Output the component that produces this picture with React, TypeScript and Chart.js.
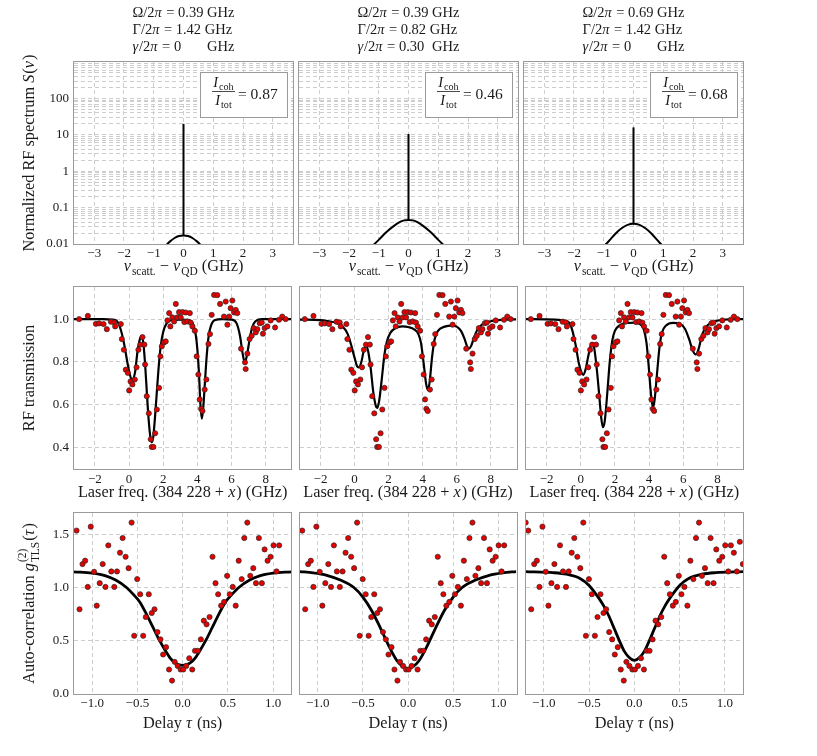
import { useEffect, useRef } from 'react';
import { Chart, registerables } from 'chart.js';

Chart.register(...registerables);

// ---------------- Row 1: normalized RF spectra S(nu), log scale ----------------
const specLabelValues = [0.01, 0.1, 1, 10, 100];
const specLabels = ['0.01', '0.1', '1', '10', '100'];
const rabiFreq = ['0.39', '0.39', '0.69'];
const radiativeRate = ['1.42', '0.82', '1.42'];
const dephasingRate = ['0', '0.30', '0'];
const coherentFraction = ['0.87', '0.46', '0.68'];
const spikeTop = [20, 10.5, 16];

const specXA = [-0.65, -0.55, -0.45, -0.3, -0.15, 0, 0.15, 0.3, 0.45, 0.55, 0.65];
const specYA = [0.0082, 0.0099, 0.0118, 0.0146, 0.0166, 0.0172, 0.0166, 0.0146, 0.0118, 0.0099, 0.0082];
const specXB = [-1.3, -1.15, -1.0, -0.75, -0.5, -0.3, -0.15, 0, 0.15, 0.3, 0.5, 0.75, 1.0, 1.15, 1.3];
const specYB = [0.0078, 0.0099, 0.013, 0.021, 0.031, 0.04, 0.0445, 0.046, 0.0445, 0.04, 0.031, 0.021, 0.013, 0.0099, 0.0078];
const specXC = [-1.05, -0.92, -0.8, -0.6, -0.4, -0.2, 0, 0.2, 0.4, 0.6, 0.8, 0.92, 1.05];
const specYC = [0.0078, 0.01, 0.0128, 0.0195, 0.027, 0.0335, 0.036, 0.0335, 0.027, 0.0195, 0.0128, 0.01, 0.0078];

// ---------------- Row 2: RF transmission (measured points, shared) ----------------
const transX = [
  -2.92, -2.41, -1.94, -1.75, -1.49, -1.30, -1.06, -0.87, -0.81, -0.48,
  -0.42, -0.30, -0.19, -0.07, 0.01, 0.09, 0.20, 0.34, 0.44, 0.55,
  0.67, 0.79, 0.90, 0.94, 1.04, 1.16, 1.27, 1.33, 1.43, 1.53,
  1.63, 1.76, 1.84, 1.92, 2.05, 2.15, 2.25, 2.35, 2.42, 2.54,
  2.64, 2.74, 2.83, 2.93, 3.03, 3.13, 3.24, 3.32, 3.42, 3.56,
  3.61, 3.71, 3.85, 3.96, 4.06, 4.14, 4.22, 4.30, 4.43, 4.53,
  4.65, 4.74, 4.84, 4.98, 5.17, 5.33, 5.56, 5.66, 5.76, 5.86,
  5.95, 6.05, 6.15, 6.25, 6.34, 6.56, 6.79, 6.83, 6.93, 7.06,
  7.18, 7.30, 7.42, 7.51, 7.65, 7.77, 7.84, 7.94, 8.10, 8.29,
  8.55, 8.78, 8.97, 9.17,
];
const transY = [
  1.000, 1.015, 0.978, 0.980, 0.977, 0.953, 0.988, 0.985, 0.966, 0.977,
  0.907, 0.857, 0.764, 0.749, 0.667, 0.709, 0.695, 0.718, 0.775, 0.857,
  0.881, 0.916, 0.881, 0.788, 0.640, 0.560, 0.439, 0.403, 0.403, 0.467,
  0.578, 0.679, 0.826, 0.873, 0.891, 0.896, 0.994, 1.028, 0.966, 1.008,
  0.989, 1.071, 1.008, 1.033, 1.008, 1.033, 0.986, 1.031, 0.989, 1.028,
  0.984, 0.966, 0.946, 0.826, 0.741, 0.625, 0.581, 0.571, 0.671, 0.718,
  0.884, 0.930, 1.020, 1.113, 1.112, 1.071, 1.012, 1.082, 0.974, 1.012,
  1.051, 1.087, 1.031, 1.043, 1.028, 0.862, 0.798, 0.767, 0.839, 0.907,
  0.922, 0.958, 0.938, 0.953, 0.981, 0.984, 0.932, 0.958, 0.966, 0.994,
  0.961, 0.997, 1.012, 1.000,
];

// Row 2 model curves
const transFitXA = [-3.22, -1.5, -1.0, -0.7, -0.5, -0.3, -0.1, 0.05, 0.18, 0.35, 0.5, 0.65, 0.75, 0.85, 0.95, 1.05, 1.15, 1.25, 1.33, 1.42, 1.52, 1.62, 1.72, 1.85, 2.0, 2.2, 2.5, 3.0, 3.5, 3.75, 3.9, 4.0, 4.1, 4.18, 4.26, 4.34, 4.44, 4.55, 4.67, 4.8, 5.0, 5.5, 6.0, 6.3, 6.5, 6.65, 6.78, 6.9, 7.05, 7.2, 7.4, 7.8, 9.5];
const transFitYA = [1.0, 1.0, 0.998, 0.99, 0.955, 0.89, 0.80, 0.74, 0.718, 0.75, 0.85, 0.91, 0.922, 0.88, 0.78, 0.65, 0.53, 0.45, 0.425, 0.45, 0.54, 0.65, 0.76, 0.87, 0.94, 0.98, 0.996, 0.998, 0.995, 0.975, 0.93, 0.86, 0.74, 0.6, 0.535, 0.58, 0.70, 0.83, 0.925, 0.97, 0.995, 1.0, 0.998, 0.98, 0.92, 0.84, 0.797, 0.83, 0.90, 0.96, 0.99, 1.0, 1.0];
const transFitXB = [-3.22, -2.0, -1.5, -1.0, -0.7, -0.4, -0.2, 0.0, 0.15, 0.25, 0.4, 0.55, 0.68, 0.8, 0.95, 1.1, 1.25, 1.33, 1.45, 1.6, 1.75, 1.9, 2.1, 2.4, 2.8, 3.2, 3.5, 3.75, 3.9, 4.05, 4.2, 4.3, 4.4, 4.55, 4.7, 4.9, 5.3, 5.7, 6.0, 6.25, 6.45, 6.6, 6.72, 6.85, 7.0, 7.2, 7.5, 8.0, 8.7, 9.5];
const transFitYB = [0.998, 0.995, 0.99, 0.98, 0.965, 0.93, 0.88, 0.82, 0.78, 0.775, 0.80, 0.855, 0.875, 0.85, 0.77, 0.66, 0.595, 0.585, 0.62, 0.72, 0.83, 0.895, 0.935, 0.958, 0.966, 0.962, 0.952, 0.93, 0.89, 0.80, 0.70, 0.67, 0.70, 0.82, 0.905, 0.945, 0.965, 0.97, 0.965, 0.945, 0.91, 0.875, 0.862, 0.875, 0.91, 0.948, 0.975, 0.99, 0.997, 0.999];
const transFitXC = [-3.22, -1.5, -1.0, -0.7, -0.5, -0.3, -0.1, 0.05, 0.15, 0.3, 0.45, 0.6, 0.7, 0.8, 0.95, 1.1, 1.2, 1.3, 1.4, 1.5, 1.6, 1.7, 1.85, 2.0, 2.3, 2.7, 3.2, 3.5, 3.7, 3.85, 3.98, 4.1, 4.22, 4.32, 4.45, 4.6, 4.75, 5.0, 5.4, 5.8, 6.1, 6.35, 6.55, 6.73, 6.9, 7.1, 7.35, 7.7, 8.3, 9.5];
const transFitYC = [1.0, 0.998, 0.993, 0.985, 0.95, 0.88, 0.79, 0.75, 0.74, 0.77, 0.83, 0.88, 0.888, 0.86, 0.76, 0.63, 0.54, 0.495, 0.52, 0.6, 0.70, 0.80, 0.90, 0.945, 0.972, 0.982, 0.984, 0.975, 0.95, 0.89, 0.78, 0.66, 0.588, 0.62, 0.73, 0.86, 0.935, 0.97, 0.982, 0.978, 0.955, 0.905, 0.855, 0.835, 0.86, 0.925, 0.965, 0.985, 0.997, 1.0];

// ---------------- Row 3: g2 auto-correlation ----------------
const g2X = [
  -1.172, -1.139, -1.106, -1.077, -1.048, -1.015, -0.978, -0.949, -0.916, -0.883,
  -0.853, -0.821, -0.788, -0.755, -0.725, -0.692, -0.663, -0.630, -0.597, -0.564,
  -0.535, -0.502, -0.469, -0.436, -0.407, -0.374, -0.341, -0.311, -0.278, -0.245,
  -0.216, -0.183, -0.150, -0.117, -0.088, -0.055, -0.022, 0.007, 0.040, 0.073,
  0.106, 0.136, 0.168, 0.201, 0.234, 0.264, 0.297, 0.330, 0.363, 0.392,
  0.425, 0.458, 0.491, 0.520, 0.553, 0.586, 0.619, 0.652, 0.681, 0.714,
  0.747, 0.780, 0.810, 0.842, 0.875, 0.905, 0.938, 0.971, 1.004, 1.037,
  1.066,
];
const g2Y = [
  1.535, 0.796, 1.22, 1.252, 1.006, 1.572, 1.148, 0.830, 1.041, 1.22,
  1.006, 1.396, 1.151, 1.006, 1.151, 1.327, 1.465, 1.289, 1.182, 1.61,
  0.547, 1.079, 0.937, 0.547, 0.723, 0.937, 0.761, 0.796, 0.582, 0.513,
  0.371, 0.440, 0.230, 0.126, 0.302, 0.264, 0.230, 0.230, 0.264, 0.336,
  0.230, 0.406, 0.406, 0.513, 0.689, 0.654, 0.723, 1.289, 1.041, 0.937,
  0.830, 0.865, 1.11, 0.937, 1.006, 0.830, 1.252, 1.079, 1.465, 1.61,
  1.11, 1.182, 1.041, 1.465, 1.041, 1.358, 1.252, 1.289, 1.396, 1.151,
  1.396,
];
const g2ExtraX = [-1.2, 1.099, 1.132, 1.165, 1.198];
const g2ExtraY = [1.61, 1.327, 1.151, 1.43, 1.22];

const g2FitXA = [-1.2, -1.0, -0.85, -0.74, -0.62, -0.55, -0.47, -0.4, -0.33, -0.26, -0.2, -0.14, -0.08, 0, 0.08, 0.14, 0.2, 0.26, 0.33, 0.4, 0.47, 0.55, 0.62, 0.74, 0.85, 1.0, 1.2];
const g2FitYA = [1.148, 1.135, 1.11, 1.07, 1.0, 0.94, 0.86, 0.75, 0.63, 0.51, 0.42, 0.34, 0.29, 0.268, 0.29, 0.34, 0.42, 0.51, 0.63, 0.75, 0.86, 0.94, 1.0, 1.07, 1.11, 1.135, 1.148];
const g2FitXB = [-1.2, -1.05, -0.9, -0.75, -0.6, -0.5, -0.4, -0.3, -0.2, -0.12, -0.06, 0, 0.06, 0.12, 0.2, 0.3, 0.4, 0.5, 0.6, 0.75, 0.9, 1.05, 1.2];
const g2FitYB = [1.15, 1.138, 1.115, 1.07, 1.0, 0.91, 0.78, 0.61, 0.43, 0.31, 0.26, 0.24, 0.26, 0.31, 0.43, 0.61, 0.78, 0.91, 1.0, 1.07, 1.115, 1.138, 1.15];
const g2FitXC = [-1.2, -0.9, -0.75, -0.6, -0.5, -0.4, -0.34, -0.28, -0.22, -0.16, -0.11, -0.06, 0, 0.06, 0.11, 0.16, 0.22, 0.28, 0.34, 0.4, 0.5, 0.6, 0.75, 0.9, 1.2];
const g2FitYC = [1.15, 1.14, 1.125, 1.085, 1.02, 0.91, 0.83, 0.73, 0.61, 0.49, 0.40, 0.345, 0.315, 0.345, 0.40, 0.49, 0.61, 0.73, 0.83, 0.91, 1.02, 1.085, 1.125, 1.14, 1.15];

// ---------------- styling / layout ----------------
const SERIF = "'Liberation Serif', 'DejaVu Serif', serif";
const TXT = '#1a1a1a';
const GRID = '#cdcdcd';
const FRAME = '#9a9a9a';
const RED = '#e60000';
const TICK_SIZE = 13;
const HEAD_SIZE = 14.5;
const AXIS_TITLE_SIZE = 16.3;

const COLS = [
  { x: 0, w: 296, yw: 74, pr: 3 },
  { x: 295, w: 226, yw: 4, pr: 3 },
  { x: 521, w: 296, yw: 3, pr: 74 },
];
const ROWS = [
  { y: 0, h: 280, pt: 62, xh: 36, tickPad: 2, titleDy: 22 },
  { y: 280, h: 225, pt: 7, xh: 36, tickPad: 3, titleDy: 22.5 },
  { y: 505, h: 251, pt: 8, xh: 62, tickPad: 1.5, titleDy: 29 },
];

type Seg = { t?: string; it?: boolean; sub?: boolean; sup?: boolean; stack?: [string, string] };

function setFont(ctx: CanvasRenderingContext2D, size: number, it: boolean) {
  ctx.font = `${it ? 'italic ' : ''}${size}px ${SERIF}`;
}
function segWidth(ctx: CanvasRenderingContext2D, s: Seg, size: number) {
  if (s.stack) {
    setFont(ctx, size * 0.7, false);
    return Math.max(ctx.measureText(s.stack[0]).width, ctx.measureText(s.stack[1]).width) + 1;
  }
  const sz = s.sub || s.sup ? size * 0.7 : size;
  setFont(ctx, sz, !!s.it);
  return ctx.measureText(s.t || '').width + (s.it ? size * 0.06 : 0);
}
function richWidth(ctx: CanvasRenderingContext2D, segs: Seg[], size: number) {
  return segs.reduce((a, s) => a + segWidth(ctx, s, size), 0);
}
function drawRich(ctx: CanvasRenderingContext2D, segs: Seg[], x: number, y: number, size: number, align = 'center', rot = 0) {
  ctx.save();
  ctx.translate(x, y);
  if (rot) ctx.rotate(rot);
  const widths = segs.map((s) => segWidth(ctx, s, size));
  const total = widths.reduce((a, b) => a + b, 0);
  let cx = align === 'center' ? -total / 2 : align === 'right' ? -total : 0;
  ctx.fillStyle = TXT;
  ctx.textAlign = 'left';
  ctx.textBaseline = 'alphabetic';
  const base = size * 0.33;
  segs.forEach((s, i) => {
    if (s.stack) {
      setFont(ctx, size * 0.7, false);
      ctx.fillText(s.stack[0], cx, base - size * 0.5);
      ctx.fillText(s.stack[1], cx, base + size * 0.28);
    } else {
      const sz = s.sub || s.sup ? size * 0.7 : size;
      setFont(ctx, sz, !!s.it);
      const dy = s.sub ? size * 0.25 : s.sup ? -size * 0.4 : 0;
      ctx.fillText(s.t || '', cx, base + dy);
    }
    cx += widths[i];
  });
  ctx.restore();
}

const X_TITLES: Seg[][] = [
  [{ t: 'ν', it: true }, { t: 'scatt.', sub: true }, { t: ' − ' }, { t: 'ν', it: true }, { t: 'QD', sub: true }, { t: ' (GHz)' }],
  [{ t: 'Laser freq. (384 228 + ' }, { t: 'x', it: true }, { t: ') (GHz)' }],
  [{ t: 'Delay ' }, { t: 'τ', it: true }, { t: ' (ns)' }],
];
const Y_TITLES: Seg[][] = [
  [{ t: 'Normalized RF spectrum ' }, { t: 'S', it: true }, { t: '(' }, { t: 'ν', it: true }, { t: ')' }],
  [{ t: 'RF transmission' }],
  [{ t: 'Auto-correlation ' }, { t: 'g', it: true }, { stack: ['(2)', 'TLS'] }, { t: '(' }, { t: 'τ', it: true }, { t: ')' }],
];

function decoPlugin(row: number, col: number) {
  return {
    id: `deco${row}${col}`,
    afterDatasetsDraw(chart: any) {
      const { ctx, chartArea: ca } = chart;
      ctx.save();
      ctx.setLineDash([]);
      ctx.strokeStyle = FRAME;
      ctx.lineWidth = 1;
      ctx.strokeRect(Math.round(ca.left) - 0.5, Math.round(ca.top) - 0.5, Math.round(ca.right - ca.left) + 1, Math.round(ca.bottom - ca.top) + 1);
      if (row === 0) {
        const bx = Math.round(ca.right) - 92.5;
        const by = Math.round(ca.top) + 10.5;
        const bw = 87;
        const bh = 45;
        ctx.fillStyle = '#ffffff';
        ctx.fillRect(bx, by, bw, bh);
        ctx.strokeStyle = FRAME;
        ctx.strokeRect(bx, by, bw, bh);
        const fx = bx + 23;
        const barY = by + 19;
        drawRich(ctx, [{ t: 'I', it: true }, { t: 'coh', sub: true }], fx, barY - 9.5, 14.5);
        drawRich(ctx, [{ t: 'I', it: true }, { t: 'tot', sub: true }], fx, barY + 8.5, 14.5);
        ctx.strokeStyle = TXT;
        ctx.lineWidth = 0.8;
        ctx.beginPath();
        ctx.moveTo(fx - 11.5, barY);
        ctx.lineTo(fx + 11.5, barY);
        ctx.stroke();
        drawRich(ctx, [{ t: `= ${coherentFraction[col]}` }], bx + 37.5, barY + 2.5, 15.5, 'left');
      }
      ctx.restore();
    },
    afterDraw(chart: any) {
      const { ctx, chartArea: ca } = chart;
      const cxm = (ca.left + ca.right) / 2;
      const cym = (ca.top + ca.bottom) / 2;
      ctx.save();
      drawRich(ctx, X_TITLES[row], cxm, ca.bottom + ROWS[row].titleDy, AXIS_TITLE_SIZE);
      if (col === 0) drawRich(ctx, Y_TITLES[row], 29, cym, AXIS_TITLE_SIZE, 'center', -Math.PI / 2);
      if (row === 0) {
        const l1: Seg[] = [{ t: 'Ω/2' }, { t: 'π', it: true }, { t: ` = ${rabiFreq[col]} GHz` }];
        const l2: Seg[] = [{ t: 'Γ/2' }, { t: 'π', it: true }, { t: ` = ${radiativeRate[col]} GHz` }];
        const w1 = richWidth(ctx, l1, HEAD_SIZE);
        const x0 = cxm - w1 / 2;
        drawRich(ctx, l1, x0, ca.top - 49.5, HEAD_SIZE, 'left');
        drawRich(ctx, l2, x0, ca.top - 33, HEAD_SIZE, 'left');
        const l3a: Seg[] = [{ t: 'γ', it: true }, { t: '/2' }, { t: 'π', it: true }, { t: ` = ${dephasingRate[col]}` }];
        const ghzX = x0 + richWidth(ctx, [{ t: 'Ω/2' }, { t: 'π', it: true }, { t: ` = ${rabiFreq[col]} ` }], HEAD_SIZE);
        drawRich(ctx, l3a, x0, ca.top - 15.5, HEAD_SIZE, 'left');
        drawRich(ctx, [{ t: 'GHz' }], ghzX, ca.top - 15.5, HEAD_SIZE, 'left');
      }
      ctx.restore();
    },
  };
}

const pts = (xs: number[], ys: number[]) => xs.map((x, i) => ({ x, y: ys[i] }));
const minus = (v: number, d: number) => (v < -1e-9 ? '\u2212' : '') + Math.abs(v).toFixed(d);

function curveDs(data: any[], width: number, smooth = true) {
  return {
    type: 'line',
    data,
    borderColor: '#000000',
    borderWidth: width,
    pointRadius: 0,
    fill: false,
    tension: 0,
    cubicInterpolationMode: smooth ? 'monotone' : 'default',
    order: 2,
  };
}
function pointDs(data: any[]) {
  return {
    type: 'line',
    data,
    showLine: false,
    pointRadius: 2.6,
    pointBackgroundColor: RED,
    pointBorderColor: '#2a2a2a',
    pointBorderWidth: 0.7,
    order: 1,
  };
}

function buildConfig(row: number, col: number): any {
  const c = COLS[col];
  const r = ROWS[row];
  const tickFont = { family: SERIF, size: TICK_SIZE };
  let datasets: any[] = [];
  let xCfg: any;
  let yCfg: any;

  if (row === 0) {
    const xs = [specXA, specXB, specXC][col];
    const ys = [specYA, specYB, specYC][col];
    datasets = [
      curveDs(pts(xs, ys), 2),
      curveDs([{ x: 0, y: Math.max(...ys) }, { x: 0, y: spikeTop[col] }], 2, false),
    ];
    xCfg = { type: 'linear', min: -3.68, max: 3.68, ticks: { stepSize: 1, callback: (v: number) => minus(v, 0) } };
    yCfg = {
      type: 'logarithmic',
      min: 0.01,
      max: 1000,
      afterBuildTicks: (scale: any) => {
        const t: any[] = [];
        for (let e = -2; e <= 2; e++) for (let m = 1; m <= 9; m++) t.push({ value: +(m * Math.pow(10, e)).toPrecision(3) });
        scale.ticks = t;
      },
      ticks: {
        callback: (v: number) => {
          const i = specLabelValues.findIndex((s) => Math.abs(s - v) / s < 1e-6);
          return i >= 0 ? specLabels[i] : '';
        },
      },
    };
  } else if (row === 1) {
    const fx = [transFitXA, transFitXB, transFitXC][col];
    const fy = [transFitYA, transFitYB, transFitYC][col];
    datasets = [pointDs(pts(transX, transY)), curveDs(pts(fx, fy), 2.2)];
    xCfg = { type: 'linear', min: -3.22, max: 9.5, ticks: { stepSize: 2, callback: (v: number) => minus(v, 0) } };
    yCfg = { type: 'linear', min: 0.3, max: 1.15, ticks: { stepSize: 0.2, callback: (v: number) => minus(v, 1) } };
  } else {
    const fx = [g2FitXA, g2FitXB, g2FitXC][col];
    const fy = [g2FitYA, g2FitYB, g2FitYC][col];
    const dx = col === 2 ? [...g2ExtraX.slice(0, 1), ...g2X, ...g2ExtraX.slice(1)] : g2X;
    const dy = col === 2 ? [...g2ExtraY.slice(0, 1), ...g2Y, ...g2ExtraY.slice(1)] : g2Y;
    datasets = [pointDs(pts(dx, dy)), curveDs(pts(fx, fy), 2.8)];
    xCfg = { type: 'linear', min: -1.2, max: 1.2, ticks: { stepSize: 0.5, callback: (v: number) => minus(v, 1) } };
    yCfg = { type: 'linear', min: 0, max: 1.7, ticks: { stepSize: 0.5, callback: (v: number) => minus(v, 1) } };
  }

  const common = (axisTicks: any) => ({
    ...axisTicks,
    font: tickFont,
    color: TXT,
    autoSkip: false,
    maxRotation: 0,
    includeBounds: false,
  });

  xCfg = {
    ...xCfg,
    position: 'bottom',
    ticks: { ...common(xCfg.ticks), padding: r.tickPad },
    grid: { color: GRID, lineWidth: 1, drawTicks: false },
    border: { display: false, dash: [4, 3] },
    afterFit: (s: any) => {
      s.height = r.xh;
      s.paddingLeft = 0;
      s.paddingRight = 0;
      s.paddingTop = 0;
      s.paddingBottom = 0;
    },
  };
  yCfg = {
    ...yCfg,
    position: 'left',
    ticks: { ...common(yCfg.ticks), padding: 5, display: col === 0 },
    grid: { color: GRID, lineWidth: 1, drawTicks: false },
    border: { display: false, dash: [4, 3] },
    afterFit: (s: any) => {
      s.width = c.yw;
      s.paddingLeft = 0;
      s.paddingRight = 0;
      s.paddingTop = 0;
      s.paddingBottom = 0;
    },
  };

  return {
    type: 'line',
    data: { datasets },
    options: {
      responsive: false,
      maintainAspectRatio: false,
      animation: false,
      devicePixelRatio: 1,
      events: [],
      layout: { padding: { left: 0, right: c.pr, top: r.pt, bottom: 0 } },
      plugins: { legend: { display: false }, tooltip: { enabled: false }, title: { display: false } },
      scales: { x: xCfg, y: yCfg },
    },
    plugins: [decoPlugin(row, col)],
  };
}

function Panel({ row, col }: { row: number; col: number }) {
  const ref = useRef<HTMLCanvasElement | null>(null);
  useEffect(() => {
    if (!ref.current) return;
    const chart = new Chart(ref.current, buildConfig(row, col));
    return () => chart.destroy();
  }, [row, col]);
  const c = COLS[col];
  const r = ROWS[row];
  return (
    <canvas
      ref={ref}
      width={c.w}
      height={r.h}
      style={{ position: 'absolute', left: c.x, top: r.y, width: c.w, height: r.h }}
    />
  );
}

export default function App() {
  const cells: { row: number; col: number }[] = [];
  for (let row = 0; row < 3; row++) for (let col = 0; col < 3; col++) cells.push({ row, col });
  return (
    <div style={{ position: 'absolute', left: 0, top: 0, width: 817, height: 756, background: '#ffffff', overflow: 'hidden' }}>
      {cells.map((p) => (
        <Panel key={`${p.row}-${p.col}`} row={p.row} col={p.col} />
      ))}
    </div>
  );
}
